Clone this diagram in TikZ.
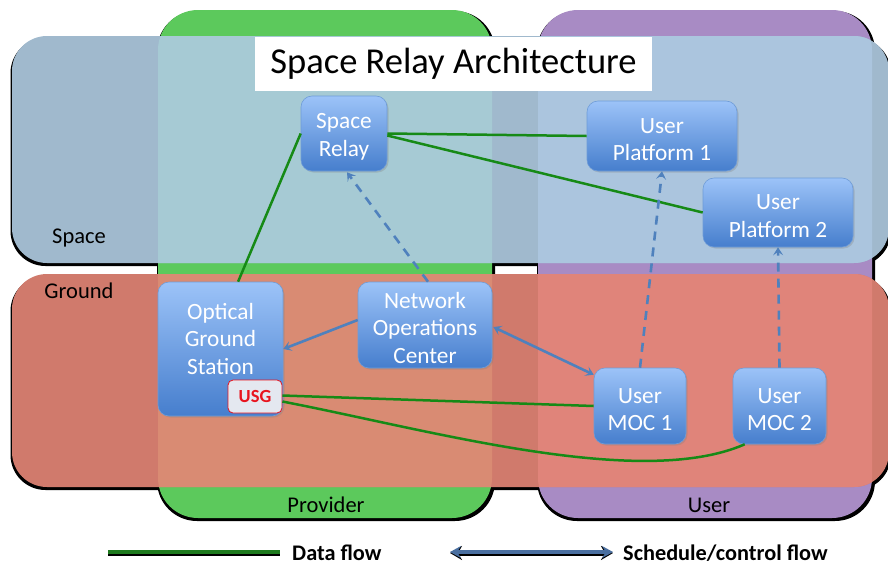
\documentclass[tikz,border=0pt]{standalone}
\usepackage{fontspec}
\setmainfont{Carlito}
\usetikzlibrary{calc,arrows.meta,shadows}

\definecolor{provG}{HTML}{5CC95C}
\definecolor{userP}{HTML}{A88BC4}
\definecolor{spaceB}{HTML}{A0B9CD}
\definecolor{spaceProv}{HTML}{A6CAD4}
\definecolor{spaceUser}{HTML}{ABC5DE}
\definecolor{groundR}{HTML}{D07A6C}
\definecolor{groundProv}{HTML}{D98B73}
\definecolor{groundUser}{HTML}{E0847A}
\definecolor{boxTop}{HTML}{9CC3F8}
\definecolor{boxBot}{HTML}{467ECD}
\definecolor{boxEdge}{HTML}{6E9CD8}
\definecolor{dataG}{HTML}{168A16}
\definecolor{ctrlB}{HTML}{4F81BD}
\definecolor{legG}{HTML}{1E7A1E}
\definecolor{legB}{HTML}{4A6FA0}
\definecolor{usgFill}{HTML}{E4E8F0}
\definecolor{usgRed}{HTML}{E8141E}

\newcommand\topstrutx{\rule{0pt}{22pt}}

\tikzset{
  bluebox/.style={draw=boxEdge, line width=0.6, rounded corners=11,
    top color=boxTop, bottom color=boxBot, text=white,
    font=\fontsize{23.3}{27.5}\selectfont, align=center, inner sep=0,
    drop shadow={shadow xshift=1.5pt, shadow yshift=-1.5pt, opacity=0.3}},
  boxtext/.style={text=white, font=\fontsize{23.3}{27.5}\selectfont, align=center, inner sep=0},
  grouplabel/.style={font=\fontsize{22.5}{26}\selectfont, text=black, inner sep=0},
  dataflow/.style={draw=dataG, line width=2.5},
  ctrlflow/.style={draw=ctrlB, line width=2.6},
  ctrltip/.style={-{Stealth[length=8,width=10,inset=3.5]}},
  legtext/.style={font=\bfseries\fontsize{22.3}{26}\selectfont, text=black, inner sep=0, anchor=west},
}

\begin{document}
\begin{tikzpicture}[x=1pt,y=-1pt]
\useasboundingbox (0,0) rectangle (888,565);

% shadows of Space and Ground bands
\fill[black, rounded corners=35] (10.5,38) rectangle (891,266);
\fill[black, rounded corners=35] (10.5,276) rectangle (891,490);
% Provider and User groups
\fill[black, rounded corners=40] (157,11) rectangle (495,521);
\fill[black, rounded corners=40] (537,11) rectangle (875,521);
\fill[provG, rounded corners=40] (158,10) rectangle (492,518);
\fill[userP, rounded corners=40] (538,10) rectangle (872,518);
% Space and Ground bands
\fill[spaceB, rounded corners=35] (12,36) rectangle (889,263);
\fill[groundR, rounded corners=35] (12,274) rectangle (889,487);
% overlaps
\begin{scope}
  \clip[rounded corners=35] (12,36) rectangle (889,263);
  \fill[spaceProv, rounded corners=40] (158,10) rectangle (492,518);
  \fill[spaceUser, rounded corners=40] (538,10) rectangle (872,518);
\end{scope}
\begin{scope}
  \clip[rounded corners=35] (12,274) rectangle (889,487);
  \fill[groundProv, rounded corners=40] (158,10) rectangle (492,518);
  \fill[groundUser, rounded corners=40] (538,10) rectangle (872,518);
\end{scope}

% group labels
\node[grouplabel] (lspace) at (79,238) {Space};
\node[grouplabel] (lground) at (79,291) {Ground};
\node[grouplabel] (lprov) at (326,505) {Provider};
\node[grouplabel] (luser) at (709,505) {User};

% title
\node[fill=white, minimum width=397, minimum height=54, inner sep=0,
      font=\fontsize{36.5}{40}\selectfont] (title) at (453.5,63.5) {Space Relay Architecture};

% nodes
\node[bluebox, minimum width=86, minimum height=75] (sr) at (344,133.5) {\topstrutx Space\\Relay};
\node[bluebox, minimum width=150, minimum height=70] (up1) at (662,136) {\topstrutx User\\Platform 1};
\node[bluebox, minimum width=150, minimum height=69] (up2) at (778,212.5) {\topstrutx User\\Platform 2};
\node[draw=boxEdge, line width=0.6, rounded corners=11, top color=boxTop, bottom color=boxBot,
      drop shadow={shadow xshift=1.5pt, shadow yshift=-1.5pt, opacity=0.3},
      minimum width=125, minimum height=134, inner sep=0] (ogs) at (220.5,349) {};
\node[boxtext] (ogst) at (220.5,338.5) {Optical\\Ground\\Station};
\node[bluebox, minimum width=134, minimum height=86] (noc) at (425,325) {\topstrutx Network\\Operations\\Center};
\node[bluebox, minimum width=92, minimum height=76] (moc1) at (640,406) {\topstrutx User\\MOC 1};
\node[bluebox, minimum width=93, minimum height=76] (moc2) at (779.5,406) {\topstrutx User\\MOC 2};
\node[draw=usgRed, line width=0.8, fill=usgFill, rounded corners=5,
      minimum width=54, minimum height=33, inner sep=0, text=usgRed,
      font=\bfseries\fontsize{18.5}{20}\selectfont] (usg) at (255,396.5) {USG};

% data flows
\draw[dataflow] ($(ogs.north west)!0.64!(ogs.north east)$) -- (sr.west);
\draw[dataflow] (sr.east) -- (up1.west);
\draw[dataflow] ($(sr.east)+(0,2)$) -- (up2.west);
\draw[dataflow] ($(usg.east)+(0,-1)$) -- (moc1.west);
\draw[dataflow] ($(usg.east)+(0,5)$) .. controls (430,430) and (640,490) .. ($(moc2.south west)+(12,0)$);

% control flows
\draw[ctrlflow, ctrltip, dash pattern=on 9pt off 7pt] ($(noc.north)+(3,0)$) -- ($(sr.south)+(3,1)$);
\draw[ctrlflow, ctrltip, dash pattern=on 9pt off 7pt] (moc1.north) -- (up1.south);
\draw[ctrlflow, ctrltip, dash pattern=on 9pt off 7pt] (moc2.north) -- (up2.south);
\draw[ctrlflow, ctrltip] ($(noc.west)+(0,-5)$) -- (ogs.east);
\draw[ctrlflow, {Stealth[length=8,width=10,inset=3.5]}-{Stealth[length=8,width=10,inset=3.5]}]
  ($(noc.east)+(1,2)$) -- ($(moc1.north west)+(0,7)$);

% legend
\coordinate (dA) at (108,552);
\coordinate (dB) at (280,552);
\coordinate (sA) at (450,552);
\coordinate (sB) at (613,552);
\draw[black, line width=5] ([yshift=-1]dA) -- ([yshift=-1]dB);
\draw[legG, line width=3.5] (dA) -- (dB);
\draw[black, line width=5, {Stealth[length=12,width=14,inset=4]}-{Stealth[length=12,width=14,inset=4]}]
  ([yshift=-1]sA) -- ([yshift=-1]sB);
\draw[legB, line width=3.5, {Stealth[length=11,width=12,inset=4]}-{Stealth[length=11,width=12,inset=4]}]
  (sA) -- (sB);
\node[legtext] (ldata) at (292,553) {Data flow};
\node[legtext] (lctrl) at (623,553) {Schedule/control flow};
\end{tikzpicture}
\end{document}
